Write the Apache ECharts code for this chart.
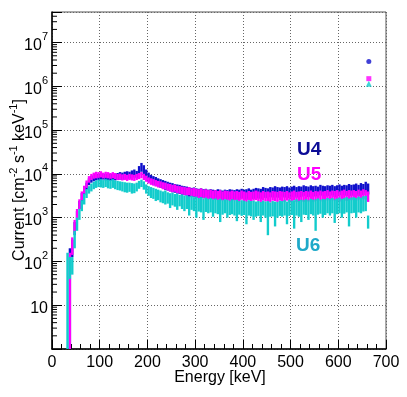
<!DOCTYPE html>
<html>
<head>
<meta charset="utf-8">
<script src="https://cdn.jsdelivr.net/npm/echarts@6/dist/echarts.min.js"></script>
<style>
  html, body { margin: 0; padding: 0; background: #fff; }
  #chart { width: 407px; height: 397px; }
</style>
</head>
<body>
<div id="chart"></div>
<script>
// bins: 5 keV wide, first bin centred at 32.5 keV
const binStart = 32.5;
const binWidth = 5;

// error-bar extents per bin (cm^-2 s^-1 keV^-1), low and high
const u4Lo = [
  null, 1, 126, 398, 891, 1580, 2400, 3310, 4370, 5500,
  6310, 6760, 7080, 7240, 7080, 7410, 7080, 7240, 6920, 7240,
  7080, 7240, 7410, 7240, 7590, 7410, 7760, 7940, 8320, 7940,
  9550, 11200, 10000, 7940, 6610, 6030, 5620, 5370, 5010, 4790,
  4570, 4270, 4170, 3980, 3800, 3720, 3550, 3470, 3310, 3240,
  3160, 3020, 2950, 3020, 2820, 2880, 2750, 2820, 2690, 2750,
  2630, 2750, 2570, 2690, 2630, 2510, 2690, 2570, 2630, 2510,
  2570, 2690, 2510, 2750, 2630, 2570, 2750, 2630, 2690, 2820,
  2750, 2690, 2950, 2820, 2750, 2950, 2880, 3020, 2880, 2820,
  3020, 2880, 3090, 2820, 2950, 3160, 2880, 3090, 2950, 3160,
  3020, 2950, 3160, 3020, 3090, 2880, 3240, 3090, 2950, 3160,
  3090, 3240, 2950, 3160, 3310, 3020, 3240, 3160, 3390, 3160,
  3310, 3470, 3160, 3550, 3310, 3800, 3390
];
const u4Hi = [
  null, 200, 316, 794, 1410, 2400, 3630, 5010, 6310, 7940,
  8910, 9550, 10000, 10000, 10500, 10200, 10000, 10500, 10000, 10200,
  10000, 10500, 11000, 10700, 11200, 11500, 11200, 12000, 12600, 11700,
  15100, 17800, 15800, 12600, 10700, 9550, 8910, 8510, 7940, 7590,
  7240, 6920, 6610, 6310, 6170, 5890, 5750, 5620, 5370, 5250,
  5130, 5010, 4790, 4900, 4680, 4570, 4680, 4470, 4570, 4370,
  4470, 4370, 4270, 4470, 4370, 4170, 4370, 4270, 4470, 4370,
  4270, 4470, 4370, 4570, 4370, 4470, 4680, 4370, 4570, 4790,
  4680, 4570, 5010, 4790, 4680, 5010, 4900, 5250, 5010, 4900,
  5130, 5010, 5250, 4900, 5130, 5370, 5010, 5250, 5130, 5500,
  5250, 5130, 5500, 5250, 5370, 5130, 5620, 5370, 5250, 5500,
  5370, 5620, 5250, 5500, 5750, 5370, 5620, 5500, 5890, 5620,
  5750, 6030, 5620, 6170, 5890, 6610, 6030
];
const u5Lo = [
  null, 1, 141, 447, 891, 1580, 2510, 3550, 4790, 6310,
  7240, 7760, 7940, 8130, 8320, 7940, 8130, 7940, 7760, 7940,
  7590, 7240, 7410, 7080, 7240, 6920, 7240, 7080, 6920, 7240,
  7590, 7940, 7240, 6610, 6030, 5620, 5370, 5130, 4900, 4790,
  4470, 4370, 4170, 3980, 3800, 3890, 3630, 3550, 3390, 3310,
  3160, 3240, 3020, 3090, 2880, 2820, 2950, 2750, 2820, 2690,
  2750, 2570, 2690, 2510, 2630, 2450, 2570, 2510, 2400, 2570,
  2450, 2510, 2340, 2570, 2400, 2290, 2510, 2340, 2450, 2510,
  2400, 2290, 2450, 2340, 2400, 2240, 2450, 2400, 2290, 2450,
  2400, 2290, 2450, 2240, 2400, 2510, 2290, 2400, 2450, 2290,
  2450, 2340, 2510, 2290, 2450, 2400, 2510, 2340, 2450, 2570,
  2400, 2510, 2450, 2570, 2340, 2510, 2630, 2400, 2570, 2510,
  2570, 2450, 2630, 2510, 2690, 2570, 2290
];
const u5Hi = [
  null, 158, 355, 891, 1580, 2630, 3980, 5370, 7080, 8910,
  10000, 10700, 11200, 11000, 11500, 10700, 11200, 11000, 10500, 11000,
  10500, 10000, 10200, 9770, 10000, 9550, 10000, 9770, 9550, 10000,
  10500, 11000, 10000, 9120, 8320, 7940, 7590, 7240, 6920, 6760,
  6460, 6310, 6030, 5890, 5620, 5750, 5370, 5250, 5130, 5010,
  4900, 5010, 4680, 4790, 4570, 4470, 4680, 4370, 4470, 4270,
  4370, 4170, 4270, 4070, 4270, 3980, 4170, 4070, 3980, 4170,
  3980, 4070, 3890, 4170, 3980, 3800, 4070, 3890, 3980, 4170,
  3980, 3800, 4070, 3890, 3980, 3800, 4070, 3980, 3890, 4070,
  3980, 3890, 4070, 3800, 3980, 4170, 3890, 3980, 4070, 3890,
  4070, 3980, 4170, 3890, 4070, 3980, 4170, 3980, 4070, 4270,
  3980, 4170, 4070, 4270, 3980, 4170, 4370, 4070, 4270, 4170,
  4270, 4070, 4370, 4170, 4470, 4270, 3980
];
const u6Lo = [
  1, 40, 50, 200, 501, 891, 1410, 2000, 2820, 3550,
  3980, 4470, 4790, 5010, 4900, 4790, 5010, 4680, 4570, 4790,
  4470, 4270, 4170, 3980, 3800, 3720, 3890, 3550, 3630, 3980,
  4570, 5010, 4370, 3550, 3160, 2820, 2690, 2400, 2510, 2240,
  2140, 2000, 2090, 1660, 1910, 1780, 1510, 1820, 1580, 1410,
  1580, 1120, 1510, 1410, 1000, 1380, 1320, 891, 1350, 1260,
  1320, 1050, 1260, 1200, 794, 1170, 1260, 1000, 1150, 1200,
  1120, 832, 1170, 1100, 1150, 708, 1120, 1070, 891, 1050,
  1100, 794, 1120, 1000, 398, 1050, 1070, 631, 1000, 1100,
  1050, 1120, 708, 1100, 1150, 562, 1120, 1050, 794, 1170,
  1150, 891, 1200, 1120, 501, 1170, 1230, 1000, 1150, 1260,
  1120, 1260, 759, 1200, 1260, 1000, 1230, 1320, 631, 1260,
  1290, 1000, 1320, 1260, 1380, 1410, 562
];
const u6Hi = [
  158, 126, 126, 501, 1000, 1580, 2510, 3550, 4470, 5250,
  6030, 6610, 7080, 7410, 7590, 7240, 7590, 7410, 7240, 7590,
  7080, 6920, 6760, 6610, 6460, 6310, 6310, 6170, 6030, 6310,
  6920, 7410, 6760, 5750, 5250, 5010, 4790, 4570, 4370, 4170,
  3980, 4170, 3800, 3630, 3720, 3470, 3550, 3310, 3390, 3160,
  3240, 3020, 3160, 2950, 3020, 2820, 2950, 2750, 2880, 2690,
  2820, 2630, 2750, 2570, 2690, 2510, 2630, 2570, 2450, 2630,
  2510, 2570, 2400, 2510, 2450, 2340, 2510, 2400, 2450, 2340,
  2400, 2290, 2450, 2340, 2400, 2240, 2400, 2340, 2290, 2450,
  2400, 2510, 2340, 2570, 2450, 2510, 2630, 2450, 2570, 2510,
  2630, 2510, 2690, 2570, 2630, 2750, 2570, 2690, 2630, 2820,
  2690, 2820, 2630, 2750, 2880, 2690, 2820, 2950, 2750, 2880,
  2950, 2820, 3020, 2880, 3090, 3160, 1120
];

// lone points drawn at the right edge (overflow)
const u4Over = [664, 3.7e6];
const u5Over = [664, 1.5e6];
const u6Over = [664, 1.15e6];

const xTicks = [0, 100, 200, 300, 400, 500, 600, 700];

const font = "'Liberation Sans', Arial, sans-serif";

function toBins(lo, hi) {
  const out = [];
  lo.forEach((l, i) => {
    if (l == null || hi[i] == null) return;
    out.push([binStart + i * binWidth, l, hi[i]]);
  });
  return out;
}

function binSeries(name, lo, hi, color) {
  return {
    name: name,
    type: "custom",
    clip: true,
    encode: { x: 0, y: [1, 2] },
    data: toBins(lo, hi),
    renderItem(params, api) {
      const e = api.value(0);
      const a = api.coord([e - binWidth / 2, api.value(1)]);
      const b = api.coord([e + binWidth / 2, api.value(2)]);
      return {
        type: "rect",
        shape: { x: a[0], y: b[1], width: b[0] - a[0], height: a[1] - b[1] },
        style: { fill: color },
      };
    },
  };
}

// minor log ticks 2..9 x 10^k on the left axis
const minorVals = [];
for (let k = 0; k < 8; k++) {
  for (let m = 2; m <= 9; m++) {
    const v = m * Math.pow(10, k);
    if (v < 5e7) minorVals.push([0, v]);
  }
}

const chart = echarts.init(document.getElementById("chart"), null, { renderer: "canvas" });

chart.setOption({
  animation: false,
  grid: {
    left: 52, right: 21, top: 12, bottom: 48,
    show: true, borderColor: "#555", borderWidth: 1,
  },
  xAxis: {
    type: "value",
    min: xTicks[0],
    max: xTicks[xTicks.length - 1],
    interval: 100,
    axisLine: { show: true, lineStyle: { color: "#000", width: 1.5 } },
    axisTick: { inside: true, length: 9, lineStyle: { color: "#000" } },
    minorTick: { show: true, splitNumber: 5, length: 5, lineStyle: { color: "#000" } },
    axisLabel: { color: "#000", fontSize: 16, fontFamily: font, margin: 6 },
    splitLine: { show: true, lineStyle: { color: "#666", type: [1, 2] } },
  },
  yAxis: {
    type: "log",
    logBase: 10,
    min: 1,
    max: 5e7,
    axisLine: { show: true, lineStyle: { color: "#000", width: 1.5 } },
    axisTick: { inside: true, length: 10, lineStyle: { color: "#000" } },
    axisLabel: {
      margin: 4,
      fontFamily: font,
      color: "#000",
      formatter(v) {
        const e = Math.round(Math.log10(v));
        if (Math.abs(v - Math.pow(10, e)) / v > 1e-6) return "";
        if (e === 0) return "";
        if (e === 1) return "{b|10}";
        return "{b|10}{s|" + e + "}";
      },
      rich: {
        b: { fontSize: 16, fontFamily: font, color: "#000", lineHeight: 22, verticalAlign: "bottom" },
        s: { fontSize: 11, fontFamily: font, color: "#000", lineHeight: 22, verticalAlign: "top" },
      },
    },
    splitLine: { show: true, lineStyle: { color: "#666", type: [1, 2] } },
  },
  series: [
    binSeries("U4", u4Lo, u4Hi, "#1010cc"),
    binSeries("U5", u5Lo, u5Hi, "#ff00ff"),
    binSeries("U6", u6Lo, u6Hi, "#12cccc"),
    { type: "scatter", data: [u4Over], symbol: "circle", symbolSize: 5, itemStyle: { color: "#1010cc" } },
    { type: "scatter", data: [u5Over], symbol: "rect", symbolSize: 5, itemStyle: { color: "#ff00ff" } },
    { type: "scatter", data: [u6Over], symbol: "triangle", symbolSize: 6, itemStyle: { color: "#12cccc" } },
    {
      type: "custom",
      silent: true,
      data: minorVals,
      renderItem(params, api) {
        const p = api.coord([api.value(0), api.value(1)]);
        return {
          type: "line",
          shape: { x1: p[0], y1: p[1], x2: p[0] + 5, y2: p[1] },
          style: { stroke: "#000", lineWidth: 1 },
        };
      },
    },
  ],
  graphic: [
    {
      type: "text", left: 297, top: 140,
      style: { text: "U4", fill: "#0c0c96", font: "bold 19px " + font },
    },
    {
      type: "text", left: 297, top: 165,
      style: { text: "U5", fill: "#ff00ff", font: "bold 19px " + font },
    },
    {
      type: "text", left: 296, top: 236,
      style: { text: "U6", fill: "#1fa9c9", font: "bold 19px " + font },
    },
    {
      type: "text", x: 220, y: 378,
      style: {
        text: "Energy [keV]", fill: "#000", font: "16px " + font,
        align: "center", verticalAlign: "middle",
      },
    },
    {
      type: "text", x: 18, y: 180, rotation: Math.PI / 2,
      style: {
        text: "{a|Current [cm}{s|-2}{a| s}{s|-1}{a| keV}{s|-1}{a|]}",
        align: "center", verticalAlign: "middle",
        rich: {
          a: { fontSize: 16, fontFamily: font, fill: "#000", lineHeight: 20, verticalAlign: "bottom" },
          s: { fontSize: 11, fontFamily: font, fill: "#000", lineHeight: 20, verticalAlign: "top" },
        },
      },
    },
  ],
});
</script>
</body>
</html>
